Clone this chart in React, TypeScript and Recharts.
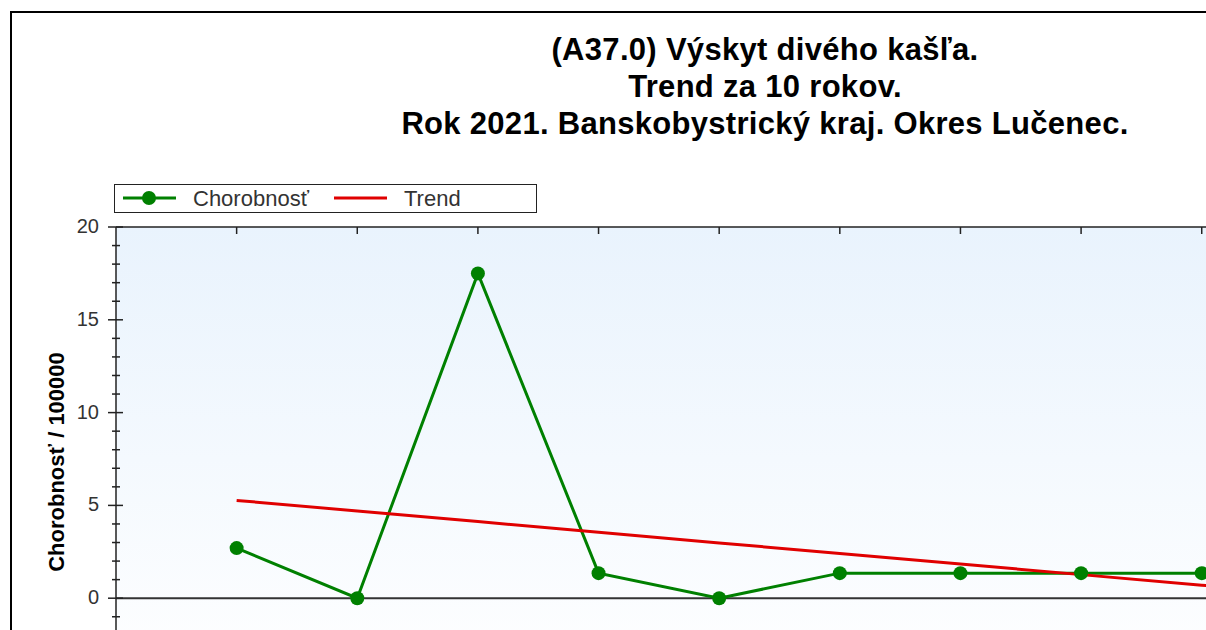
import { LineChart, Line, XAxis, YAxis, CartesianGrid, ReferenceLine } from 'recharts';

const years = [2012, 2013, 2014, 2015, 2016, 2017, 2018, 2019, 2020, 2021];
const chorobnost = [2.7, 0, 17.5, 1.35, 0, 1.35, 1.35, 1.35, 1.35, 0];
const trend = [5.27, 4.7, 4.13, 3.55, 2.98, 2.41, 1.84, 1.27, 0.7, 0.13];
const yTicks = [-5, -4, -3, -2, -1, 0, 1, 2, 3, 4, 5, 6, 7, 8, 9, 10, 11, 12, 13, 14, 15, 16, 17, 18, 19, 20];
const titleLines = [
  '(A37.0) Výskyt divého kašľa.',
  'Trend za 10 rokov.',
  'Rok 2021. Banskobystrický kraj. Okres Lučenec.',
];

const data = years.map((year, i) => ({ year, chorobnost: chorobnost[i], trend: trend[i] }));

const FONT = '"Liberation Sans", Arial, sans-serif';

// left axis: long ticks + label every 5, short minor ticks in between
const YTick = ({ x, y, payload }: any) => {
  const major = payload.value % 5 === 0;
  return (
    <g>
      <line x1={major ? x - 8 : x - 4} x2={major ? x + 7 : x + 4} y1={y} y2={y} stroke="#222" strokeWidth={1.5} />
      {major && (
        <text x={x - 17} y={y} dy={6} textAnchor="end" fontSize={20} fill="#333" fontFamily={FONT}>
          {payload.value}
        </text>
      )}
    </g>
  );
};

// top axis ticks point down into the plot
const TopTick = ({ x, y }: any) => <line x1={x} x2={x} y1={y} y2={y + 7} stroke="#222" strokeWidth={1.5} />;

export default function App() {
  return (
    <div style={{ position: 'fixed', left: 0, top: 0, width: 1206, height: 630, overflow: 'hidden', background: '#fff', fontFamily: FONT }}>
      <div style={{ position: 'absolute', left: 10, top: 11, width: 1530, height: 800, borderTop: '2px solid #000', borderLeft: '2px solid #000' }}>
        <div style={{ position: 'absolute', left: 0, top: 18, width: 1506, textAlign: 'center', fontSize: 31, letterSpacing: 0.3, fontWeight: 'bold', lineHeight: '37px', color: '#000' }}>
          {titleLines.map((t) => (
            <div key={t}>{t}</div>
          ))}
        </div>

        <div style={{ position: 'absolute', left: 102, top: 171, width: 423, height: 29, border: '1.5px solid #222', boxSizing: 'border-box' }}>
          <svg width={420} height={26} style={{ position: 'absolute', left: 0, top: 0 }}>
            <line x1={8} x2={61} y1={13} y2={13} stroke="#008000" strokeWidth={3} />
            <circle cx={34} cy={13} r={7} fill="#008000" />
            <text x={78} y={21} fontSize={22} fill="#333" fontFamily={FONT}>Chorobnosť</text>
            <line x1={219} x2={272} y1={13} y2={13} stroke="#e00000" strokeWidth={3} />
            <text x={289} y={21} fontSize={22} fill="#333" fontFamily={FONT}>Trend</text>
          </svg>
        </div>

        <div style={{ position: 'absolute', left: 45, top: 449, width: 0, height: 0 }}>
          <div style={{ position: 'absolute', left: -150, top: -12, width: 300, textAlign: 'center', transform: 'rotate(-90deg)', fontSize: 22, fontWeight: 'bold', lineHeight: '24px', color: '#000' }}>
            Chorobnosť / 100000
          </div>
        </div>

        <div style={{ position: 'absolute', left: 0, top: 0 }}>
          <LineChart width={1510} height={760} data={data} margin={{ top: 204, right: 79, bottom: 52, left: 44 }}>
            <defs>
              <linearGradient id="plotBg" x1="0" y1="0" x2="0" y2="1">
                <stop offset="0%" stopColor="#e9f3fd" />
                <stop offset="100%" stopColor="#ffffff" />
              </linearGradient>
            </defs>
            <CartesianGrid horizontal={false} vertical={false} fill="url(#plotBg)" xAxisId="bottom" />
            <XAxis
              xAxisId="top"
              orientation="top"
              type="number"
              dataKey="year"
              domain={[2011, 2022]}
              ticks={years}
              allowDataOverflow
              height={10}
              tickSize={0}
              tickMargin={0}
              tick={<TopTick />}
              axisLine={{ stroke: '#222', strokeWidth: 1.5 }}
            />
            <XAxis
              xAxisId="bottom"
              type="number"
              dataKey="year"
              domain={[2011, 2022]}
              ticks={years}
              allowDataOverflow
              height={30}
              tick={{ fontSize: 19, fill: '#333', fontFamily: FONT }}
              axisLine={{ stroke: '#222', strokeWidth: 1.5 }}
              tickLine={{ stroke: '#222' }}
            />
            <YAxis
              type="number"
              domain={[-5, 20]}
              ticks={yTicks}
              interval={0}
              width={60}
              tickSize={0}
              tickMargin={0}
              tick={<YTick />}
              axisLine={{ stroke: '#222', strokeWidth: 1.5 }}
            />
            <ReferenceLine y={0} xAxisId="bottom" stroke="#333" strokeWidth={2} />
            <Line
              xAxisId="bottom"
              type="linear"
              dataKey="chorobnost"
              stroke="#008000"
              strokeWidth={3}
              dot={{ r: 7, fill: '#008000', stroke: 'none' }}
              isAnimationActive={false}
            />
            <Line
              xAxisId="bottom"
              type="linear"
              dataKey="trend"
              stroke="#e00000"
              strokeWidth={3}
              dot={false}
              isAnimationActive={false}
            />
          </LineChart>
        </div>
      </div>
    </div>
  );
}
